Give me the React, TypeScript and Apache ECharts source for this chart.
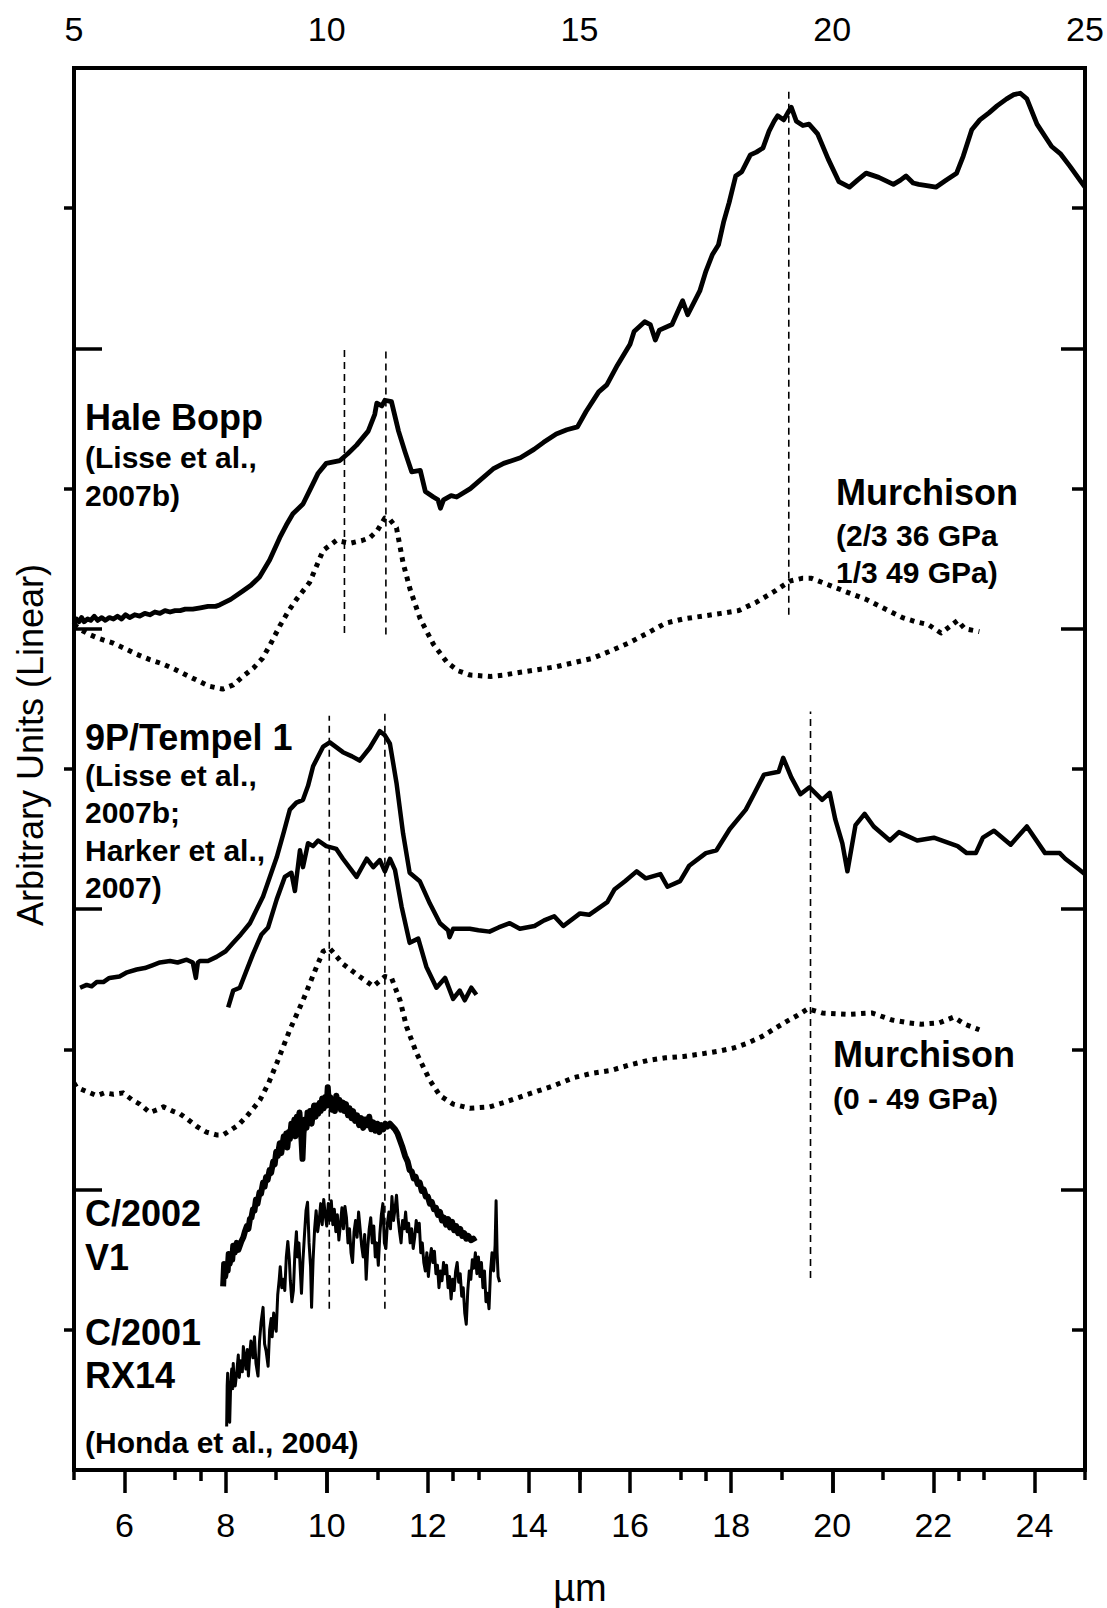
import React, { useEffect, useRef } from 'react';
import * as echarts from 'echarts';

const FONT = '"Liberation Sans", Arial, Helvetica, sans-serif';
const TICK_FONT = '"Liberation Sans Narrow", "Arial Narrow", "Liberation Sans", Arial, sans-serif';

// Axis ticks / labels
const bottomLabels = [6, 8, 10, 12, 14, 16, 18, 20, 22, 24];
const bottomMajorTicks = [6, 8, 10, 12, 14, 16, 18, 20, 22, 24];
const bottomMinorTicks = [5, 7, 9, 11, 13, 15, 17, 19, 21, 23, 25];
const topLabels = [5, 10, 15, 20, 25];
const topMajorTicks = [10, 15, 20];
const topMinorTicks = [7.5, 12.5, 17.5, 22.5];
const yOddTicks = [1, 3, 5, 7, 9];
const yEvenTicks = [2, 4, 6, 8];

// Hale Bopp (Lisse et al., 2007b)
const haleBopp: number[][] = [
  [5.0, 6.03], [5.05, 6.07], [5.1, 6.05], [5.15, 6.08], [5.2, 6.05], [5.27, 6.07], [5.33, 6.06], [5.4, 6.09],
  [5.47, 6.06], [5.55, 6.08], [5.62, 6.06], [5.7, 6.08], [5.78, 6.07], [5.86, 6.09], [5.94, 6.07], [6.02, 6.1],
  [6.1, 6.08], [6.2, 6.1], [6.3, 6.09], [6.4, 6.11], [6.5, 6.1], [6.6, 6.12], [6.7, 6.11], [6.8, 6.13],
  [6.9, 6.12], [7.0, 6.13], [7.1, 6.13], [7.2, 6.14], [7.35, 6.14], [7.5, 6.15], [7.65, 6.16], [7.8, 6.16],
  [7.88, 6.17], [8.1, 6.21], [8.34, 6.27], [8.5, 6.31], [8.67, 6.37], [8.87, 6.49], [9.07, 6.65], [9.2, 6.74],
  [9.33, 6.82], [9.53, 6.89], [9.68, 7.0], [9.83, 7.11], [9.99, 7.18], [10.26, 7.2], [10.42, 7.25],
  [10.59, 7.31], [10.82, 7.41], [10.95, 7.53], [10.99, 7.61], [11.09, 7.59], [11.15, 7.63], [11.28, 7.62],
  [11.42, 7.41], [11.55, 7.26], [11.68, 7.12], [11.85, 7.13], [11.95, 6.98], [12.11, 6.94], [12.2, 6.92],
  [12.25, 6.86], [12.31, 6.92], [12.46, 6.95], [12.57, 6.94], [12.84, 7.0], [13.0, 7.05], [13.29, 7.14],
  [13.5, 7.18], [13.83, 7.22], [14.1, 7.28], [14.29, 7.33], [14.54, 7.39], [14.75, 7.42], [14.96, 7.44],
  [15.13, 7.55], [15.38, 7.69], [15.54, 7.74], [15.75, 7.88], [16.0, 8.03], [16.08, 8.12], [16.29, 8.19],
  [16.4, 8.17], [16.5, 8.06], [16.58, 8.13], [16.83, 8.17], [17.04, 8.34], [17.14, 8.24], [17.38, 8.41],
  [17.5, 8.55], [17.63, 8.67], [17.75, 8.74], [17.85, 8.9], [17.96, 9.04], [18.09, 9.23], [18.21, 9.26],
  [18.38, 9.38], [18.5, 9.4], [18.63, 9.43], [18.75, 9.55], [18.85, 9.62], [18.92, 9.66], [19.04, 9.63],
  [19.12, 9.68], [19.19, 9.72], [19.29, 9.62], [19.42, 9.59], [19.54, 9.6], [19.71, 9.53], [19.92, 9.35],
  [20.13, 9.19], [20.34, 9.15], [20.5, 9.2], [20.67, 9.25], [20.92, 9.22], [21.21, 9.17], [21.35, 9.2],
  [21.46, 9.23], [21.6, 9.18], [21.71, 9.17], [21.9, 9.16], [22.05, 9.15], [22.25, 9.2], [22.46, 9.25],
  [22.59, 9.37], [22.76, 9.56], [22.92, 9.63], [23.1, 9.68], [23.26, 9.73], [23.45, 9.78], [23.59, 9.81],
  [23.72, 9.82], [23.85, 9.78], [24.05, 9.6], [24.34, 9.44], [24.51, 9.39], [24.7, 9.3], [24.92, 9.19],
  [25.0, 9.15],
];

// Murchison (2/3 36 GPa, 1/3 49 GPa) - dotted
const murchisonMix: number[][] = [
  [5.0, 6.03], [5.15, 5.99], [5.3, 5.96], [5.5, 5.93], [5.76, 5.9], [6.0, 5.86], [6.23, 5.82], [6.5, 5.78],
  [6.75, 5.75], [7.0, 5.71], [7.22, 5.67], [7.45, 5.63], [7.68, 5.59], [7.94, 5.57], [8.15, 5.6], [8.34, 5.66],
  [8.55, 5.72], [8.73, 5.79], [8.9, 5.9], [9.07, 6.02], [9.25, 6.13], [9.4, 6.21], [9.66, 6.33], [9.8, 6.45],
  [9.93, 6.56], [10.19, 6.63], [10.46, 6.61], [10.7, 6.63], [10.85, 6.65], [11.0, 6.7], [11.15, 6.79],
  [11.25, 6.78], [11.38, 6.72], [11.51, 6.47], [11.65, 6.28], [11.85, 6.07], [12.11, 5.89], [12.38, 5.76],
  [12.6, 5.7], [12.84, 5.67], [13.24, 5.66], [13.5, 5.67], [13.83, 5.69], [14.2, 5.71], [14.54, 5.73],
  [14.9, 5.76], [15.26, 5.79], [15.6, 5.84], [15.98, 5.9], [16.35, 5.97], [16.7, 6.04], [17.05, 6.07],
  [17.43, 6.09], [17.8, 6.11], [18.15, 6.13], [18.5, 6.19], [18.87, 6.27], [19.16, 6.34], [19.4, 6.36],
  [19.59, 6.36], [19.95, 6.31], [20.3, 6.26], [20.67, 6.21], [21.0, 6.15], [21.39, 6.08], [21.65, 6.05],
  [21.9, 6.03], [22.15, 5.97], [22.3, 6.01], [22.48, 6.06], [22.62, 6.0], [22.91, 5.98],
];

// 9P/Tempel 1 (Lisse et al., 2007b)
const tempelLisse: number[][] = [
  [5.12, 3.44], [5.25, 3.46], [5.35, 3.45], [5.45, 3.48], [5.58, 3.48], [5.7, 3.51], [5.9, 3.52], [6.05, 3.55],
  [6.24, 3.57], [6.4, 3.58], [6.55, 3.6], [6.7, 3.62], [6.9, 3.63], [7.05, 3.62], [7.23, 3.64], [7.35, 3.62],
  [7.41, 3.51], [7.45, 3.62], [7.49, 3.63], [7.65, 3.63], [7.82, 3.66], [8.0, 3.7], [8.15, 3.76], [8.3, 3.82],
  [8.48, 3.9], [8.74, 4.09], [9.01, 4.37], [9.15, 4.55], [9.27, 4.71], [9.4, 4.76], [9.53, 4.78], [9.63, 4.88],
  [9.73, 5.02], [9.93, 5.16], [10.06, 5.19], [10.32, 5.12], [10.5, 5.09], [10.65, 5.06], [10.85, 5.15],
  [11.05, 5.27], [11.15, 5.24], [11.25, 5.18], [11.38, 4.9], [11.51, 4.54], [11.64, 4.26], [11.84, 4.2],
  [12.04, 4.04], [12.24, 3.9], [12.4, 3.85], [12.43, 3.8], [12.5, 3.86], [12.83, 3.86], [13.0, 3.85],
  [13.22, 3.84], [13.4, 3.87], [13.62, 3.9], [13.82, 3.86], [14.11, 3.88], [14.3, 3.92], [14.5, 3.95],
  [14.68, 3.88], [15.01, 3.97], [15.19, 3.96], [15.55, 4.05], [15.69, 4.14], [15.9, 4.2], [16.13, 4.27],
  [16.31, 4.22], [16.6, 4.25], [16.74, 4.16], [16.99, 4.2], [17.17, 4.31], [17.5, 4.4], [17.71, 4.42],
  [17.97, 4.57], [18.29, 4.71], [18.45, 4.82], [18.65, 4.96], [18.94, 4.98], [19.03, 5.08], [19.19, 4.94],
  [19.37, 4.82], [19.55, 4.87], [19.8, 4.78], [19.95, 4.83], [20.06, 4.64], [20.2, 4.47], [20.3, 4.27],
  [20.46, 4.6], [20.64, 4.68], [20.82, 4.59], [21.14, 4.49], [21.32, 4.55], [21.68, 4.49], [22.01, 4.51],
  [22.48, 4.45], [22.66, 4.4], [22.84, 4.4], [22.98, 4.51], [23.2, 4.56], [23.53, 4.46], [23.85, 4.59],
  [24.21, 4.4], [24.5, 4.4], [24.61, 4.36], [24.86, 4.29], [25.0, 4.25],
];

// 9P/Tempel 1 (Harker et al., 2007)
const tempelHarker: number[][] = [
  [8.05, 3.3], [8.15, 3.42], [8.28, 3.44], [8.41, 3.56], [8.54, 3.68], [8.71, 3.82], [8.84, 3.87], [9.01, 4.07],
  [9.17, 4.23], [9.3, 4.26], [9.37, 4.13], [9.47, 4.42], [9.53, 4.3], [9.63, 4.47], [9.73, 4.45], [9.83, 4.49],
  [9.99, 4.45], [10.19, 4.43], [10.32, 4.36], [10.59, 4.23], [10.79, 4.36], [10.92, 4.3], [11.05, 4.35],
  [11.15, 4.27], [11.25, 4.36], [11.35, 4.28], [11.48, 4.02], [11.64, 3.76], [11.81, 3.79], [11.97, 3.59],
  [12.17, 3.44], [12.34, 3.51], [12.5, 3.36], [12.63, 3.42], [12.73, 3.35], [12.86, 3.44], [12.96, 3.39],
];

// Murchison (0 - 49 GPa) - dotted
const murchisonFull: number[][] = [
  [5.0, 2.76], [5.05, 2.73], [5.25, 2.7], [5.45, 2.67], [5.6, 2.69], [5.78, 2.68], [5.97, 2.69], [6.15, 2.64],
  [6.3, 2.61], [6.5, 2.55], [6.65, 2.57], [6.77, 2.59], [6.95, 2.56], [7.1, 2.54], [7.25, 2.5], [7.43, 2.45],
  [7.62, 2.41], [7.82, 2.39], [7.95, 2.39], [8.08, 2.42], [8.25, 2.46], [8.41, 2.52], [8.55, 2.58], [8.68, 2.64],
  [8.85, 2.76], [9.01, 2.9], [9.27, 3.14], [9.53, 3.35], [9.8, 3.59], [9.93, 3.7], [10.06, 3.72], [10.32, 3.61],
  [10.65, 3.52], [10.92, 3.45], [11.15, 3.52], [11.28, 3.51], [11.45, 3.35], [11.58, 3.16], [11.78, 2.97],
  [12.04, 2.78], [12.24, 2.67], [12.5, 2.61], [12.83, 2.58], [13.22, 2.59], [13.5, 2.62], [13.82, 2.66],
  [14.15, 2.7], [14.48, 2.74], [14.9, 2.8], [15.25, 2.83], [15.62, 2.85], [16.0, 2.89], [16.34, 2.92],
  [16.7, 2.94], [17.06, 2.95], [17.45, 2.97], [17.79, 2.99], [18.05, 3.01], [18.29, 3.04], [18.6, 3.09],
  [18.87, 3.15], [19.1, 3.2], [19.3, 3.24], [19.52, 3.29], [19.8, 3.26], [20.31, 3.25], [20.78, 3.26],
  [21.18, 3.21], [21.5, 3.19], [21.76, 3.18], [22.12, 3.19], [22.4, 3.23], [22.62, 3.18], [22.91, 3.14],
];

// C/2002 V1 (Honda et al., 2004)
const c2002V1: number[][] = [
  [7.95, 1.31], [7.97, 1.47], [7.99, 1.38], [8.02, 1.46], [8.04, 1.42], [8.06, 1.54], [8.08, 1.47], [8.1, 1.52],
  [8.13, 1.5], [8.15, 1.6], [8.18, 1.55], [8.22, 1.62], [8.25, 1.57], [8.28, 1.6], [8.31, 1.63], [8.35, 1.66],
  [8.38, 1.7], [8.42, 1.74], [8.45, 1.72], [8.48, 1.79], [8.51, 1.8], [8.54, 1.86], [8.57, 1.85], [8.6, 1.93],
  [8.63, 1.9], [8.67, 1.98], [8.7, 1.97], [8.74, 2.05], [8.77, 2.02], [8.8, 2.09], [8.83, 2.07], [8.87, 2.14],
  [8.9, 2.12], [8.94, 2.2], [8.97, 2.18], [9.0, 2.27], [9.03, 2.24], [9.07, 2.33], [9.1, 2.26], [9.12, 2.31],
  [9.15, 2.38], [9.18, 2.33], [9.2, 2.4], [9.22, 2.3], [9.25, 2.41], [9.27, 2.36], [9.3, 2.47], [9.33, 2.42],
  [9.36, 2.5], [9.38, 2.38], [9.41, 2.52], [9.43, 2.46], [9.46, 2.55], [9.48, 2.44], [9.5, 2.36], [9.52, 2.22],
  [9.54, 2.4], [9.57, 2.5], [9.6, 2.44], [9.62, 2.55], [9.65, 2.48], [9.67, 2.56], [9.7, 2.47], [9.72, 2.53],
  [9.75, 2.6], [9.78, 2.52], [9.8, 2.6], [9.83, 2.54], [9.86, 2.62], [9.88, 2.56], [9.91, 2.65], [9.94, 2.58],
  [9.97, 2.66], [10.0, 2.6], [10.02, 2.73], [10.04, 2.62], [10.07, 2.66], [10.1, 2.57], [10.13, 2.63],
  [10.16, 2.56], [10.19, 2.67], [10.22, 2.59], [10.25, 2.64], [10.28, 2.57], [10.32, 2.62], [10.35, 2.56],
  [10.38, 2.61], [10.42, 2.53], [10.45, 2.58], [10.49, 2.51], [10.52, 2.56], [10.56, 2.49], [10.6, 2.53],
  [10.64, 2.46], [10.68, 2.51], [10.72, 2.44], [10.76, 2.5], [10.8, 2.46], [10.84, 2.52], [10.88, 2.43],
  [10.92, 2.48], [10.96, 2.42], [11.0, 2.47], [11.04, 2.41], [11.08, 2.46], [11.12, 2.43], [11.16, 2.47],
  [11.2, 2.45], [11.25, 2.47], [11.3, 2.45], [11.35, 2.43], [11.4, 2.4], [11.45, 2.35], [11.5, 2.3],
  [11.55, 2.24], [11.6, 2.2], [11.64, 2.14], [11.68, 2.13], [11.72, 2.08], [11.76, 2.09], [11.8, 2.04],
  [11.84, 2.05], [11.88, 1.99], [11.92, 2.0], [11.96, 1.95], [12.0, 1.95], [12.04, 1.9], [12.08, 1.91],
  [12.12, 1.86], [12.16, 1.87], [12.2, 1.82], [12.24, 1.84], [12.28, 1.78], [12.32, 1.8], [12.36, 1.75],
  [12.4, 1.79], [12.44, 1.73], [12.48, 1.77], [12.52, 1.71], [12.56, 1.74], [12.6, 1.69], [12.64, 1.72],
  [12.68, 1.67], [12.72, 1.69], [12.76, 1.65], [12.8, 1.67], [12.85, 1.64], [12.9, 1.65], [12.93, 1.63],
];

// C/2001 RX14 (Honda et al., 2004)
const c2001RX14: number[][] = [
  [8.02, 0.31], [8.03, 0.6], [8.04, 0.69], [8.05, 0.45], [8.06, 0.38], [8.08, 0.34], [8.1, 0.62], [8.12, 0.72],
  [8.14, 0.58], [8.15, 0.76], [8.17, 0.62], [8.19, 0.6], [8.22, 0.7], [8.25, 0.82], [8.27, 0.66], [8.3, 0.78],
  [8.33, 0.7], [8.35, 0.88], [8.38, 0.8], [8.4, 0.72], [8.43, 0.86], [8.45, 0.67], [8.48, 0.84], [8.5, 0.92],
  [8.54, 0.8], [8.57, 0.95], [8.6, 0.76], [8.64, 0.67], [8.67, 0.92], [8.7, 1.05], [8.74, 1.16], [8.77, 0.9],
  [8.8, 0.85], [8.84, 0.74], [8.87, 1.0], [8.9, 1.08], [8.92, 0.95], [8.95, 1.12], [8.98, 1.02], [9.0, 0.99],
  [9.03, 1.25], [9.06, 1.36], [9.08, 1.45], [9.11, 1.3], [9.14, 1.36], [9.17, 1.28], [9.2, 1.52], [9.23, 1.63],
  [9.26, 1.5], [9.28, 1.35], [9.31, 1.2], [9.34, 1.28], [9.37, 1.55], [9.4, 1.7], [9.42, 1.52], [9.45, 1.62],
  [9.48, 1.4], [9.5, 1.26], [9.53, 1.5], [9.56, 1.68], [9.59, 1.85], [9.62, 1.91], [9.65, 1.62], [9.68, 1.45],
  [9.7, 1.16], [9.73, 1.5], [9.76, 1.72], [9.79, 1.85], [9.82, 1.7], [9.85, 1.78], [9.88, 1.9], [9.91, 1.75],
  [9.94, 1.93], [9.97, 1.82], [10.0, 1.74], [10.03, 1.9], [10.06, 1.78], [10.09, 1.92], [10.12, 1.75],
  [10.15, 1.86], [10.18, 1.7], [10.21, 1.82], [10.24, 1.64], [10.27, 1.75], [10.3, 1.87], [10.33, 1.72],
  [10.36, 1.88], [10.39, 1.8], [10.42, 1.62], [10.45, 1.72], [10.48, 1.55], [10.51, 1.48], [10.54, 1.7],
  [10.57, 1.78], [10.6, 1.66], [10.63, 1.84], [10.66, 1.72], [10.69, 1.6], [10.72, 1.52], [10.75, 1.68],
  [10.78, 1.36], [10.81, 1.58], [10.84, 1.72], [10.87, 1.8], [10.9, 1.62], [10.93, 1.74], [10.96, 1.52],
  [10.99, 1.62], [11.02, 1.46], [11.05, 1.68], [11.08, 1.82], [11.11, 1.9], [11.14, 1.62], [11.17, 1.58],
  [11.2, 1.76], [11.23, 1.84], [11.26, 1.72], [11.29, 1.95], [11.32, 1.78], [11.35, 1.86], [11.38, 1.96],
  [11.41, 1.8], [11.44, 1.7], [11.47, 1.62], [11.5, 1.78], [11.53, 1.72], [11.56, 1.84], [11.59, 1.7],
  [11.62, 1.76], [11.65, 1.62], [11.68, 1.72], [11.71, 1.58], [11.74, 1.66], [11.77, 1.78], [11.8, 1.7],
  [11.83, 1.76], [11.86, 1.55], [11.89, 1.62], [11.92, 1.48], [11.95, 1.42], [11.98, 1.55], [12.01, 1.38],
  [12.04, 1.5], [12.07, 1.58], [12.1, 1.48], [12.13, 1.56], [12.16, 1.4], [12.19, 1.46], [12.22, 1.3],
  [12.25, 1.42], [12.28, 1.35], [12.31, 1.48], [12.34, 1.4], [12.37, 1.46], [12.4, 1.3], [12.43, 1.38],
  [12.46, 1.22], [12.49, 1.36], [12.52, 1.28], [12.55, 1.42], [12.58, 1.48], [12.61, 1.34], [12.64, 1.4],
  [12.67, 1.24], [12.7, 1.3], [12.73, 1.12], [12.76, 1.04], [12.79, 1.28], [12.82, 1.42], [12.85, 1.36],
  [12.88, 1.5], [12.91, 1.44], [12.94, 1.55], [12.97, 1.4], [13.0, 1.52], [13.03, 1.38], [13.06, 1.48],
  [13.09, 1.3], [13.12, 1.42], [13.15, 1.2], [13.18, 1.26], [13.21, 1.15], [13.24, 1.42], [13.27, 1.55],
  [13.3, 1.42], [13.33, 1.6], [13.35, 1.92], [13.37, 1.55], [13.39, 1.38], [13.42, 1.34],
];

// Dashed reference lines: [x, yFrom, yTo]
const refLines: number[][] = [
  [10.35, 5.97, 8.0],
  [11.17, 5.96, 8.0],
  [19.14, 6.1, 9.86],
  [10.05, 1.15, 5.38],
  [11.15, 1.15, 5.4],
  [19.57, 1.37, 5.41],
];

// Text annotations: [text, x(px), y(px), size, weight]
const annotations: (string | number)[][] = [
  ['Hale Bopp', 85, 417, 36, 'bold'],
  ['(Lisse et al.,', 85, 457, 30, 'bold'],
  ['2007b)', 85, 495, 30, 'bold'],
  ['Murchison', 836, 492, 36, 'bold'],
  ['(2/3 36 GPa', 836, 535, 30, 'bold'],
  ['1/3 49 GPa)', 836, 572, 30, 'bold'],
  ['9P/Tempel 1', 85, 737, 36, 'bold'],
  ['(Lisse et al.,', 85, 775, 30, 'bold'],
  ['2007b;', 85, 812, 30, 'bold'],
  ['Harker et al.,', 85, 850, 30, 'bold'],
  ['2007)', 85, 887, 30, 'bold'],
  ['Murchison', 833, 1054, 36, 'bold'],
  ['(0 - 49 GPa)', 833, 1098, 30, 'bold'],
  ['C/2002', 85, 1213, 36, 'bold'],
  ['V1', 85, 1257, 36, 'bold'],
  ['C/2001', 85, 1332, 36, 'bold'],
  ['RX14', 85, 1375, 36, 'bold'],
  ['(Honda et al., 2004)', 85, 1442, 30, 'bold'],
];

const tickStyle = { color: '#000', width: 3.5 };

function lineSeries(data: number[][], width: number, type: any) {
  return {
    type: 'line',
    data,
    xAxisIndex: 0,
    yAxisIndex: 0,
    symbol: 'none',
    showSymbol: false,
    silent: true,
    smooth: false,
    lineStyle: { color: '#000', width, type, cap: 'butt', join: 'round' },
  };
}

function xAxisBase(position: string, interval: number) {
  return {
    type: 'value',
    position,
    min: 5,
    max: 25,
    interval,
    axisLine: { show: false },
    splitLine: { show: false },
  };
}

function yAxisBase(position: string) {
  return {
    type: 'value',
    position,
    min: 0,
    max: 10,
    interval: 1,
    axisLine: { show: false },
    splitLine: { show: false },
    axisLabel: { show: false },
  };
}

export default function App() {
  const ref = useRef<HTMLDivElement>(null);

  useEffect(() => {
    document.body.style.margin = '0';
    const chart = echarts.init(ref.current as HTMLDivElement, null, { renderer: 'svg' });

    const series: any[] = [
      lineSeries(haleBopp, 4.8, 'solid'),
      lineSeries(murchisonMix, 5, [4.5, 5.5]),
      lineSeries(tempelLisse, 4.5, 'solid'),
      lineSeries(tempelHarker, 4.5, 'solid'),
      lineSeries(murchisonFull, 5, [4.5, 5.5]),
      lineSeries(c2002V1, 6, 'solid'),
      lineSeries(c2001RX14, 3, 'solid'),
    ];
    refLines.forEach((r) => {
      series.push(lineSeries([[r[0], r[1]], [r[0], r[2]]], 1.6, [7, 5]));
    });

    const graphics: any[] = annotations.map((a) => ({
      type: 'text',
      x: a[1] as number,
      y: a[2] as number,
      silent: true,
      style: {
        text: a[0] as string,
        fill: '#000',
        fontSize: a[3] as number,
        fontWeight: a[4] as string,
        fontFamily: FONT,
        align: 'left',
        verticalAlign: 'middle',
      },
    }));
    graphics.push({
      type: 'text',
      x: 30,
      y: 745,
      rotation: Math.PI / 2,
      silent: true,
      style: {
        text: 'Arbitrary Units (Linear)',
        fill: '#000',
        fontSize: 36,
        fontFamily: FONT,
        align: 'center',
        verticalAlign: 'middle',
      },
    });
    graphics.push({
      type: 'text',
      x: 580,
      y: 1588,
      silent: true,
      style: {
        text: 'µm',
        fill: '#000',
        fontSize: 38,
        fontFamily: TICK_FONT,
        align: 'center',
        verticalAlign: 'middle',
      },
    });

    const option: any = {
      animation: false,
      backgroundColor: '#fff',
      grid: {
        left: 74,
        right: 22,
        top: 68,
        bottom: 138,
        show: true,
        borderColor: '#000',
        borderWidth: 4,
        containLabel: false,
      },
      xAxis: [
        {
          ...xAxisBase('bottom', 1),
          axisTick: { show: true, inside: false, length: 10, customValues: bottomMinorTicks, lineStyle: tickStyle },
          axisLabel: {
            show: true,
            customValues: bottomLabels,
            formatter: (v: number) => (bottomLabels.indexOf(v) >= 0 ? String(v) : ''),
            margin: 38,
            fontSize: 34,
            color: '#000',
            fontFamily: TICK_FONT,
          },
        },
        {
          ...xAxisBase('bottom', 1),
          axisTick: { show: true, inside: false, length: 23, customValues: bottomMajorTicks, lineStyle: tickStyle },
          axisLabel: { show: false },
        },
        {
          ...xAxisBase('top', 2.5),
          axisTick: { show: true, inside: true, length: 11, customValues: topMinorTicks, lineStyle: tickStyle },
          axisLabel: {
            show: true,
            customValues: topLabels,
            formatter: (v: number) => (topLabels.indexOf(v) >= 0 ? String(v) : ''),
            showMinLabel: true,
            showMaxLabel: true,
            margin: 22,
            fontSize: 34,
            color: '#000',
            fontFamily: TICK_FONT,
          },
        },
        {
          ...xAxisBase('top', 2.5),
          axisTick: { show: true, inside: true, length: 23, customValues: topMajorTicks, lineStyle: tickStyle },
          axisLabel: { show: false },
        },
      ],
      yAxis: [
        {
          ...yAxisBase('left'),
          axisTick: { show: true, inside: false, length: 10, customValues: yOddTicks, lineStyle: tickStyle },
        },
        {
          ...yAxisBase('left'),
          axisTick: { show: true, inside: true, length: 28, customValues: yEvenTicks, lineStyle: tickStyle },
        },
        {
          ...yAxisBase('right'),
          axisTick: { show: true, inside: true, length: 13, customValues: yOddTicks, lineStyle: tickStyle },
        },
        {
          ...yAxisBase('right'),
          axisTick: { show: true, inside: true, length: 24, customValues: yEvenTicks, lineStyle: tickStyle },
        },
      ],
      series,
      graphic: graphics,
    };

    chart.setOption(option);
    return () => chart.dispose();
  }, []);

  return (
    <div
      ref={ref}
      style={{ position: 'absolute', left: 0, top: 0, width: 1107, height: 1608, background: '#fff' }}
    />
  );
}
